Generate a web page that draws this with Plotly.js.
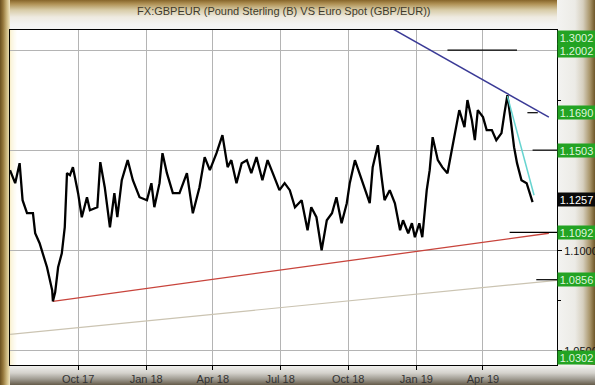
<!DOCTYPE html>
<html>
<head>
<meta charset="utf-8">
<script src="https://cdn.plot.ly/plotly-3.0.1.min.js"></script>
<style>
  html, body { margin: 0; padding: 0; background: #ffffff; }
  #wrap { position: relative; width: 595px; height: 385px; overflow: hidden; background: #f2f2ef; }
  .band { position: absolute; }
  #top { left: 0; top: 0; width: 595px; height: 30px;
    background: linear-gradient(to bottom, #86652a 0px, #b09256 4px, #d8cca8 10px, #eeeae0 17px, #f3f3f1 24px, #f5f5f5 30px); }
  #left { left: 0; top: 0; width: 10px; height: 385px;
    background: linear-gradient(to right, #6a5020 0px, #94763a 3px, #d0bc84 7px, #efe6c4 10px); }
  #bottom { left: 0; top: 365px; width: 595px; height: 20px;
    background: linear-gradient(to bottom, #f4f4f2 0px, #d4d2cc 8px, #a09c92 14px, #665c4a 20px); }
  #right { left: 557px; top: 0; width: 38px; height: 385px;
    background: linear-gradient(to right, #f3f3f1 0px, #ecebe6 18px, #d6cfbe 26px, #a89468 33px, #6e5628 38px); }
  #plot { position: absolute; left: 0; top: 0; width: 595px; height: 385px; }
</style>
</head>
<body>
<div id="wrap">
  <div class="band" id="top"></div>
  <div class="band" id="right"></div>
  <div class="band" id="bottom"></div>
  <div class="band" id="left"></div>
  <div id="plot"></div>
</div>
<script>
// GBP/EUR weekly-ish readings
const dates = [
 '2017-07-01','2017-07-08','2017-07-14','2017-07-18','2017-07-24','2017-08-01','2017-08-04','2017-08-10',
 '2017-08-20','2017-08-27','2017-08-28','2017-08-31','2017-09-04','2017-09-09','2017-09-13','2017-09-16',
 '2017-09-20','2017-09-24','2017-10-01','2017-10-06','2017-10-13','2017-10-17','2017-10-27','2017-10-31',
 '2017-11-06','2017-11-13','2017-11-19','2017-11-23','2017-11-29','2017-12-07','2017-12-14','2017-12-23',
 '2018-01-02','2018-01-08','2018-01-12','2018-01-19','2018-01-23','2018-01-29','2018-02-06','2018-02-15',
 '2018-02-25','2018-03-05','2018-03-14','2018-03-21','2018-03-28','2018-04-06','2018-04-14','2018-04-21',
 '2018-04-26','2018-05-03','2018-05-10','2018-05-17','2018-05-23','2018-05-30','2018-06-07','2018-06-14',
 '2018-06-21','2018-06-30','2018-07-07','2018-07-14','2018-07-21','2018-07-30','2018-08-07','2018-08-12',
 '2018-08-19','2018-08-26','2018-09-02','2018-09-09','2018-09-15','2018-09-22','2018-09-29','2018-10-03',
 '2018-10-10','2018-10-16','2018-10-23','2018-10-30','2018-11-03','2018-11-10','2018-11-15','2018-11-19',
 '2018-11-26','2018-12-03','2018-12-10','2018-12-14','2018-12-21','2018-12-26','2018-12-30','2019-01-05',
 '2019-01-09','2019-01-15','2019-01-19','2019-01-23','2019-01-30','2019-02-05','2019-02-12','2019-02-19',
 '2019-02-24','2019-02-28','2019-03-07','2019-03-11','2019-03-17','2019-03-21','2019-03-25','2019-04-01',
 '2019-04-06','2019-04-13','2019-04-19','2019-04-26','2019-04-30','2019-05-04','2019-05-09','2019-05-13',
 '2019-05-17','2019-05-23','2019-05-30','2019-06-03','2019-06-07'
];
const closes = [
 1.1403,1.1338,1.1438,1.1253,1.1188,1.1188,1.1088,1.1038,
 1.0918,1.0803,1.0748,1.0793,1.0918,1.0988,1.1118,1.1388,
 1.1378,1.1418,1.1288,1.1168,1.1268,1.1203,1.1218,1.1443,
 1.1318,1.1118,1.1288,1.1168,1.1353,1.1453,1.1353,1.1268,
 1.1253,1.1338,1.1218,1.1338,1.1488,1.1388,1.1288,1.1288,
 1.1388,1.1188,1.1318,1.1468,1.1403,1.1488,1.1578,1.1418,
 1.1453,1.1338,1.1438,1.1453,1.1388,1.1468,1.1353,1.1453,
 1.1388,1.1303,1.1338,1.1303,1.1218,1.1253,1.1103,1.1218,
 1.1168,1.1003,1.1153,1.1188,1.1268,1.1138,1.1238,1.1338,
 1.1453,1.1388,1.1303,1.1238,1.1418,1.1528,1.1368,1.1253,
 1.1303,1.1238,1.1103,1.1153,1.1088,1.1138,1.1068,1.1138,
 1.1068,1.1303,1.1403,1.1568,1.1453,1.1418,1.1388,1.1518,
 1.1618,1.1703,1.1618,1.1753,1.1653,1.1553,1.1703,1.1668,
 1.1603,1.1603,1.1553,1.1588,1.1688,1.1778,1.1638,1.1518,
 1.1438,1.1353,1.1338,1.1288,1.1243
];

// trend lines
const resistDates = ['2018-11-26', '2019-06-29'];
const resistVals  = [1.2117, 1.1668];
const cyanDates   = ['2019-05-04', '2019-06-09'];
const cyanVals    = [1.1773, 1.1278];
const supportDates = ['2017-08-28', '2019-06-29'];
const supportVals  = [1.0748, 1.1088];
const lowerDates  = ['2017-07-01', '2019-07-10'];
const lowerVals   = [1.0583, 1.0853];

// horizontal target levels
const levelVals   = [1.2002, 1.1690, 1.1503, 1.1092, 1.0856];
const levelStarts = ['2019-02-12', '2019-05-31', '2019-06-07', '2019-05-07', '2019-06-12'];
const levelEnds   = ['2019-05-17', '2019-06-14', '2019-07-10', '2019-07-10', '2019-07-10'];

// right-side price tags
const tagTexts  = ['1.3002', '1.2002', '1.1690', '1.1503', '1.1257', '1.1092', '1.0856', '1.0302'];
const tagVals   = [null, 1.2002, 1.1690, 1.1503, 1.1257, 1.1092, 1.0856, null];
const tagPinned = ['top', null, null, null, null, null, null, 'bottom'];
const tagColors = ['#23a323', '#23a323', '#23a323', '#23a323', '#0a0a0a', '#23a323', '#23a323', '#23a323'];

// axis ticks (1.15 / 1.20 labels sit fully under price tags, so left blank)
const xTickVals = ['2017-10-01', '2018-01-01', '2018-04-01', '2018-07-01', '2018-10-01', '2019-01-01', '2019-04-01'];
const xTickText = ['Oct 17', 'Jan 18', 'Apr 18', 'Jul 18', 'Oct 18', 'Jan 19', 'Apr 19'];
const yTickVals = [1.05, 1.10, 1.15, 1.20];
const yTickText = ['1.0500', '1.1000', '', ''];

const xRange = ['2017-07-01', '2019-07-10'];
const yRange = [1.0430, 1.2103];

const lvX = [], lvY = [];
levelVals.forEach((v, i) => { lvX.push(levelStarts[i], levelEnds[i], null); lvY.push(v, v, null); });

const traces = [
  { x: lowerDates, y: lowerVals, mode: 'lines', line: { color: '#cbc4b2', width: 1.2 }, hoverinfo: 'skip' },
  { x: supportDates, y: supportVals, mode: 'lines', line: { color: '#c8443c', width: 1.3 }, hoverinfo: 'skip' },
  { x: dates, y: closes, mode: 'lines', line: { color: '#000000', width: 2.3 }, hoverinfo: 'skip' },
  { x: resistDates, y: resistVals, mode: 'lines', line: { color: '#3a3a96', width: 1.5 }, hoverinfo: 'skip' },
  { x: cyanDates, y: cyanVals, mode: 'lines', line: { color: '#66d4d0', width: 1.5 }, hoverinfo: 'skip' },
  { x: lvX, y: lvY, mode: 'lines', line: { color: '#000000', width: 1.2 }, hoverinfo: 'skip', connectgaps: false }
];

const annotations = tagTexts.map((t, i) => {
  const a = {
    text: t, xref: 'paper', x: 1, xanchor: 'left', xshift: 0,
    showarrow: false, bgcolor: tagColors[i], borderpad: 0, width: 37, height: 13,
    font: { family: 'Arial, Liberation Sans, sans-serif', size: 11, color: i === 4 ? '#ffffff' : '#dff5dc' },
    align: 'center'
  };
  if (tagPinned[i] === 'top') { a.yref = 'paper'; a.y = 1; a.yanchor = 'top'; }
  else if (tagPinned[i] === 'bottom') { a.yref = 'paper'; a.y = 0; a.yanchor = 'bottom'; }
  else { a.yref = 'y'; a.y = tagVals[i]; a.yanchor = 'middle'; }
  return a;
});

// soft cream fade at the left of the plot area
const shapes = [];
const fadeOps = [0.55, 0.4, 0.28, 0.18, 0.1, 0.05];
fadeOps.forEach((op, i) => {
  shapes.push({ type: 'rect', xref: 'paper', yref: 'paper', x0: i * 0.0022, x1: (i + 1) * 0.0022, y0: 0, y1: 1,
    fillcolor: 'rgba(246,230,170,' + op + ')', line: { width: 0 }, layer: 'below' });
});

const layout = {
  width: 595, height: 385,
  margin: { l: 10, r: 38, t: 30, b: 20, pad: 0 },
  paper_bgcolor: 'rgba(0,0,0,0)',
  plot_bgcolor: '#ffffff',
  showlegend: false,
  title: {
    text: 'FX:GBPEUR (Pound Sterling (B) VS Euro Spot (GBP/EUR))',
    xref: 'container', yref: 'container', x: 0.477, xanchor: 'center', y: 0.972, yanchor: 'middle',
    font: { family: 'Arial, Liberation Sans, sans-serif', size: 11, color: '#3e3a2c' }
  },
  xaxis: {
    type: 'date', range: xRange, tickvals: xTickVals, ticktext: xTickText,
    showgrid: true, gridcolor: '#b4b4b4', gridwidth: 1,
    ticks: 'outside', ticklen: 4, tickcolor: '#000000',
    showline: true, linecolor: '#000000', linewidth: 1, mirror: true,
    tickfont: { family: 'Arial, Liberation Sans, sans-serif', size: 11, color: '#333333' },
    zeroline: false, fixedrange: true
  },
  yaxis: {
    range: yRange, side: 'right', tickvals: yTickVals, ticktext: yTickText,
    showgrid: true, gridcolor: '#b4b4b4', gridwidth: 1,
    ticks: 'outside', ticklen: 4, tickcolor: '#000000',
    minor: { tickvals: [1.075, 1.125, 1.175], ticks: 'outside', ticklen: 3, tickcolor: '#000000', showgrid: false },
    showline: true, linecolor: '#000000', linewidth: 1, mirror: true,
    tickfont: { family: 'Arial, Liberation Sans, sans-serif', size: 11, color: '#111111' },
    zeroline: false, fixedrange: true
  },
  annotations: annotations,
  shapes: shapes
};

Plotly.newPlot('plot', traces, layout, { displayModeBar: false, staticPlot: true });
</script>
</body>
</html>
